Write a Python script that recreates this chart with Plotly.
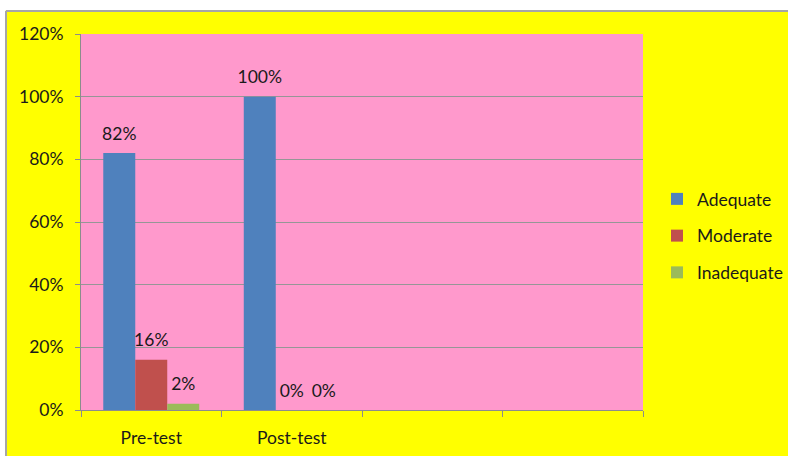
import plotly.graph_objects as go

categories = ["Pre-test", "Post-test", " ", "  "]
series_names = ["Adequate", "Moderate", "Inadequate"]
adequate = [82, 100]
moderate = [16, 0]
inadequate = [2, 0]
y_ticks = [0, 20, 40, 60, 80, 100, 120]
y_tick_labels = ["0%", "20%", "40%", "60%", "80%", "100%", "120%"]

colors = ["#4F81BD", "#C0504D", "#9BBB59"]
FONT = "Lato, Carlito, Calibri, sans-serif"
TXT = "#1a1a1a"
FS = 17.5

fig = go.Figure()
for name, vals, col in zip(series_names, [adequate, moderate, inadequate], colors):
    fig.add_trace(go.Bar(
        name=name,
        x=categories[:len(vals)],
        y=vals,
        marker=dict(color=col, line=dict(width=0)),
        hoverinfo="skip",
        legendgroup=name,
        offsetgroup=name,
    ))
# data labels, grouped the same way as bars
for name, vals in zip(series_names, [adequate, moderate, inadequate]):
    fig.add_trace(go.Scatter(
        x=categories[:len(vals)],
        y=vals,
        mode="markers+text",
        marker=dict(size=13, color="rgba(0,0,0,0)"),
        text=[f"{v}%" for v in vals],
        textposition="top center",
        textfont=dict(family=FONT, size=FS, color=TXT),
        cliponaxis=False,
        hoverinfo="skip",
        showlegend=False,
        offsetgroup=name,
    ))

W, H = 788, 456
L, R, T, B = 81, 643, 34, 410

def px_x(p):
    return (p - L) / (R - L)

def px_y(p):
    return (B - p) / (B - T)

shapes = [
    dict(type="rect", xref="paper", yref="paper", x0=px_x(-5), x1=px_x(W + 5),
         y0=px_y(10.5), y1=px_y(-5), fillcolor="white", line=dict(width=0), layer="above"),
    dict(type="rect", xref="paper", yref="paper", x0=px_x(-5), x1=px_x(5.5),
         y0=px_y(H + 5), y1=px_y(-5), fillcolor="white", line=dict(width=0), layer="above"),
    dict(type="line", xref="paper", yref="paper", x0=px_x(6), x1=px_x(W + 5),
         y0=px_y(11), y1=px_y(11), line=dict(color="#a6a6a6", width=2), layer="above"),
    dict(type="line", xref="paper", yref="paper", x0=px_x(6), x1=px_x(6),
         y0=px_y(11), y1=px_y(H + 5), line=dict(color="#a6a6a6", width=2), layer="above"),
]

fig.update_layout(
    width=W, height=H, autosize=False,
    margin=dict(l=L, r=W - R, t=T, b=H - B, pad=0, autoexpand=False),
    paper_bgcolor="#FFFF00",
    plot_bgcolor="#FF99CC",
    barmode="group",
    bargap=0.317,
    bargroupgap=0,
    scattermode="group",
    scattergap=0.317,
    font=dict(family=FONT, size=FS, color=TXT),
    showlegend=True,
    legend=dict(xref="container", yref="container", x=657 / W, y=(H - 236) / H,
                xanchor="left", yanchor="middle",
                bgcolor="rgba(0,0,0,0)", font=dict(family=FONT, size=FS, color=TXT),
                tracegroupgap=11, itemwidth=30),
    shapes=shapes,
    xaxis=dict(
        type="category",
        categoryorder="array",
        categoryarray=categories,
        range=[-0.5, 3.5],
        tickson="boundaries",
        ticks="outside",
        ticklen=6,
        tickcolor="#8c8c8c",
        showline=True,
        linecolor="#8c8c8c",
        linewidth=1,
        showgrid=False,
        ticklabelstandoff=12,
        tickfont=dict(family=FONT, size=FS, color=TXT),
        fixedrange=True,
        automargin=False,
    ),
    yaxis=dict(
        range=[0, 120],
        tickvals=y_ticks,
        ticktext=y_tick_labels,
        ticks="outside",
        ticklen=5,
        tickcolor="#8c8c8c",
        showline=True,
        linecolor="#8c8c8c",
        linewidth=1,
        showgrid=True,
        gridcolor="#969696",
        gridwidth=1.4,
        zeroline=False,
        ticklabelstandoff=8,
        tickfont=dict(family=FONT, size=FS, color=TXT),
        fixedrange=True,
        automargin=False,
    ),
)

post = (
    "document.body.style.margin='0';"
    "document.body.style.overflow='hidden';"
    "var gd=document.getElementById('{plot_id}');"
    "Plotly.relayout(gd,{width:788,height:456});"
)
fig.write_html("out.html", config={"displayModeBar": False, "responsive": False},
               post_script=post)
